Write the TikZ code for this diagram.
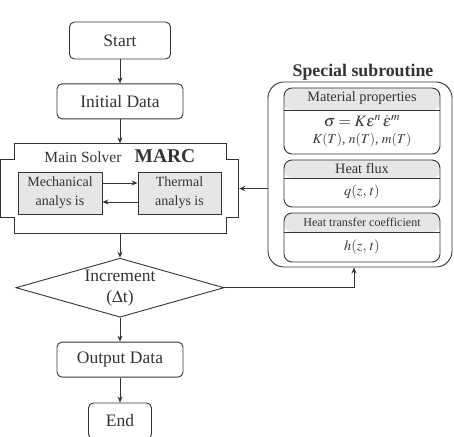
\documentclass[tikz,border=0pt]{standalone}
\usepackage{mathptmx}
\usepackage{fontspec}
\setmainfont{Liberation Serif}
\usepackage{tikz}
\usetikzlibrary{positioning,arrows.meta,shapes.geometric,calc}
\definecolor{ink}{HTML}{333333}
\definecolor{paleg}{HTML}{E6E6E6}
\tikzset{
  term/.style={rectangle, rounded corners=5pt, draw=ink, line width=0.9pt,
               minimum height=36pt, text=ink, font=\fontsize{17.5}{20}\selectfont},
  proc/.style={term, minimum width=126pt, minimum height=35pt},
  dec/.style={diamond, draw=ink, line width=0.9pt, aspect=3.5, inner sep=0pt,
              minimum width=208pt, minimum height=59pt, text=ink, align=center,
              font=\fontsize{17.5}{21}\selectfont},
  ana/.style={rectangle, draw=ink, line width=0.9pt, fill=paleg, align=center,
              minimum height=42pt, text=ink, font=\fontsize{14}{19}\selectfont},
  subr/.style={rectangle, rounded corners=16pt, draw=ink, line width=0.9pt,
               minimum width=184pt, minimum height=185pt},
  subbox/.style={rectangle, rounded corners=8pt, draw=ink, line width=0.9pt,
                 minimum width=156pt,
                 path picture={\fill[paleg] (path picture bounding box.north west)
                   rectangle ([yshift=-#1]path picture bounding box.north east);
                   \draw[ink, line width=0.9pt] ([yshift=-#1]path picture bounding box.north west)
                   -- ([yshift=-#1]path picture bounding box.north east);}},
  lbl/.style={text=ink, inner sep=0pt, font=\fontsize{14.3}{17}\selectfont},
  flow/.style={-{Stealth[length=6pt,width=5pt]}, line width=0.9pt, draw=ink}
}

\begin{document}
\begin{tikzpicture}[x=1pt, y=-1pt, node distance=24pt]
\useasboundingbox (0,0) rectangle (454,436);
\node[term, minimum width=101pt, minimum height=37pt] (start) at (120,40.5) {Start};
\node[proc, below=of start] (init) {Initial Data};
\node[minimum width=238pt, minimum height=90pt, inner sep=0pt, below=of init] (solver) {};
\node[dec, below=of solver] (incr) {Increment\\($\Delta$t)};
\node[proc, below=of incr] (out) {Output Data};
\node[term, minimum width=63pt, below=25pt of out] (end) {End};
\draw[ink, line width=0.9pt] ([xshift=14pt]solver.north west) -- ++(212pt,0) -- ++(0,-16pt) -- ++(12pt,0)
  -- ++(0,-58pt) -- ++(-12pt,0) -- ++(0,-16pt) -- ++(-212pt,0) -- ++(0,16pt) -- ++(-14pt,0)
  -- ++(0,58pt) -- ++(14pt,0) -- cycle;
\node[text=ink, font=\fontsize{15.5}{18}\selectfont] (mainlbl) at (83,157) {Main Solver};
\node[text=ink, font=\fontsize{19.5}{22}\selectfont\bfseries] (marc) at (165,156) {MARC};
\node[ana, minimum width=84pt] (mech) at (60,193) {Mechanical\\analys is};
\node[ana, minimum width=83pt] (therm) at (179.5,193) {Thermal\\analys is};
\node[text=ink, font=\fontsize{17.8}{20}\selectfont\bfseries] (subttl) at (363,72) {Special subroutine};
\node[subr] (sub) at (360,174.5) {};
\node[subbox=22pt, minimum height=66pt] (mat) at (362,121) {};
\node[subbox=18pt, minimum height=47pt] (flux) at (362,183.5) {};
\node[subbox=19pt, minimum height=49pt] (htc) at (362,237.5) {};
\node[lbl] (matlbl) at ([yshift=-11pt]mat.north) {Material properties};
\node[lbl, font=\fontsize{16}{18}\selectfont] (law) at (362,121) {$\sigma = K\varepsilon^{n}\,\dot{\varepsilon}^{m}$};
\node[lbl, font=\fontsize{13.5}{16}\selectfont] (coef) at (362,140) {$K(T)$, $n(T)$, $m(T)$};
\node[lbl] (fluxlbl) at ([yshift=-9pt]flux.north) {Heat flux};
\node[lbl] (q) at (362,192) {$q(z,\,t)$};
\node[lbl, font=\fontsize{12.1}{14}\selectfont] (htclbl) at ([yshift=-9.5pt]htc.north) {Heat transfer coefficient};
\node[lbl] (h) at (362,247) {$h(z,\,t)$};
\draw[flow] (start)--(init);\draw[flow] (init)--(solver);\draw[flow] (solver)--(incr);
\draw[flow] (incr)--(out);\draw[flow] (out)--(end);
\draw[flow] ([yshift=10pt]mech.east)--([yshift=10pt]therm.west);
\draw[flow] ([yshift=-9pt]therm.west)--([yshift=-9pt]mech.east);
\draw[flow] (solver.east -| sub.west)--(solver.east);
\draw[flow] (incr.east) -| ([xshift=-6pt]sub.south);
\end{tikzpicture}
\end{document}
